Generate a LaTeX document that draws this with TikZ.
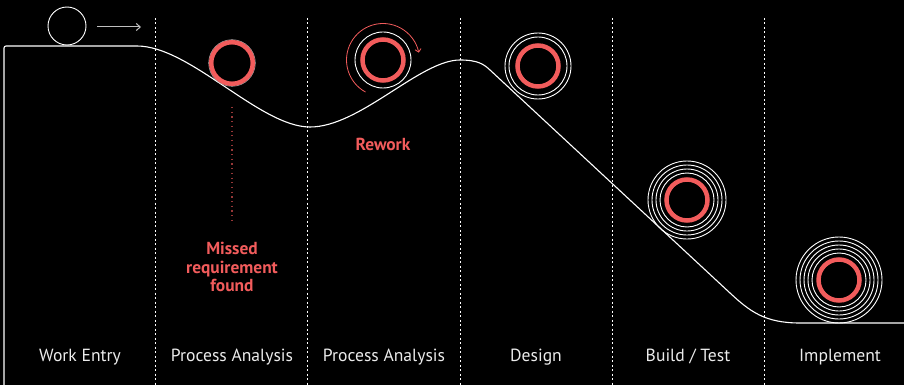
\documentclass[tikz,border=0pt]{standalone}
\usepackage{fontspec}
\setmainfont{PT Sans}
\usetikzlibrary{arrows.meta}
\definecolor{ared}{RGB}{242,92,92}
\definecolor{dred}{RGB}{150,55,55}
\begin{document}
\begin{tikzpicture}[x=1pt,y=-1pt,
  lbl/.style={text=white!92!black, font=\fontsize{17.6}{20}\selectfont, anchor=base},
  redlbl/.style={text=ared, font=\bfseries\fontsize{17.4}{18.5}\selectfont, align=center},
  sep/.style={white, line width=0.8pt, dash pattern=on 2pt off 2.5pt},
  ring/.style={white, line width=0.9pt},
  redring/.style={ared, line width=4.5pt},
  track/.style={white, line width=1.1pt}]
\fill[black] (0,0) rectangle (904,385);
\useasboundingbox (0,0) rectangle (904,385);
% column separators
\foreach \x in {155,307,460,612,764} \draw[sep] (\x,18) -- (\x,385);
% track
\draw[track] (4,385) -- (4,48) [rounded corners=2pt] -- (4,46) -- (135,46) [sharp corners]
  .. controls (190,46) and (260,127) .. (310,127)
  .. controls (360,127) and (420,60) .. (460,60)
  .. controls (478,60) and (484,64.4) .. (490,70)
  -- (730,293)
  .. controls (750,311.6) and (765,323) .. (800,323) -- (904,323);
% starting ball and arrow
\coordinate (c0) at (67,26);
\draw[ring] (c0) circle[radius=19];
\coordinate (a1) at (97,27);
\coordinate (a2) at (141,27);
\draw[white!75!black, line width=1pt, -{Straight Barb[length=4pt,width=7pt]}] (a1) -- (a2);
% rings
\coordinate (c1) at (232,63);
\coordinate (c2) at (383,60);
\coordinate (c3) at (538,66);
\coordinate (c4) at (687,200);
\coordinate (c5) at (839,280);
\draw[white!70!black, line width=0.6pt] (c1) circle[radius=23.3];
\draw[redring] (c1) circle[radius=20.8];
\draw[ring] (c2) circle[radius=28];
\draw[redring] (c2) circle[radius=20.5];
\foreach \r in {29,33} \draw[ring] (c3) circle[radius=\r];
\draw[redring] (c3) circle[radius=20.5];
\foreach \r in {27,31,35,39} \draw[ring] (c4) circle[radius=\r];
\draw[redring] (c4) circle[radius=20.5];
\foreach \r in {27,31,35,39,43} \draw[ring] (c5) circle[radius=\r];
\draw[redring] (c5) circle[radius=20.5];
% rework arc
\draw[ared, line width=0.8pt, -{Straight Barb[length=3pt,width=6pt]}]
  (c2) ++(118.6:36.5) arc[start angle=118.6, end angle=348.4, radius=36.5];
% missed requirement marker
\coordinate (m1) at (232,107);
\coordinate (m2) at (232,223);
\draw[dred, line width=1.1pt, dash pattern=on 1.2pt off 3.5pt] (m1) -- (m2);
\node[redlbl] (missed) at (232,267) {Missed\\requirement\\found};
\node[redlbl, anchor=base] (rework) at (383,150) {Rework};
% column labels
\node[lbl] (l1) at (80,361) {Work Entry};
\node[lbl] (l2) at (232,361) {Process Analysis};
\node[lbl] (l3) at (384,361) {Process Analysis};
\node[lbl] (l4) at (536,361) {Design};
\node[lbl] (l5) at (688,361) {Build / Test};
\node[lbl] (l6) at (840,361) {Implement};
\end{tikzpicture}
\end{document}
